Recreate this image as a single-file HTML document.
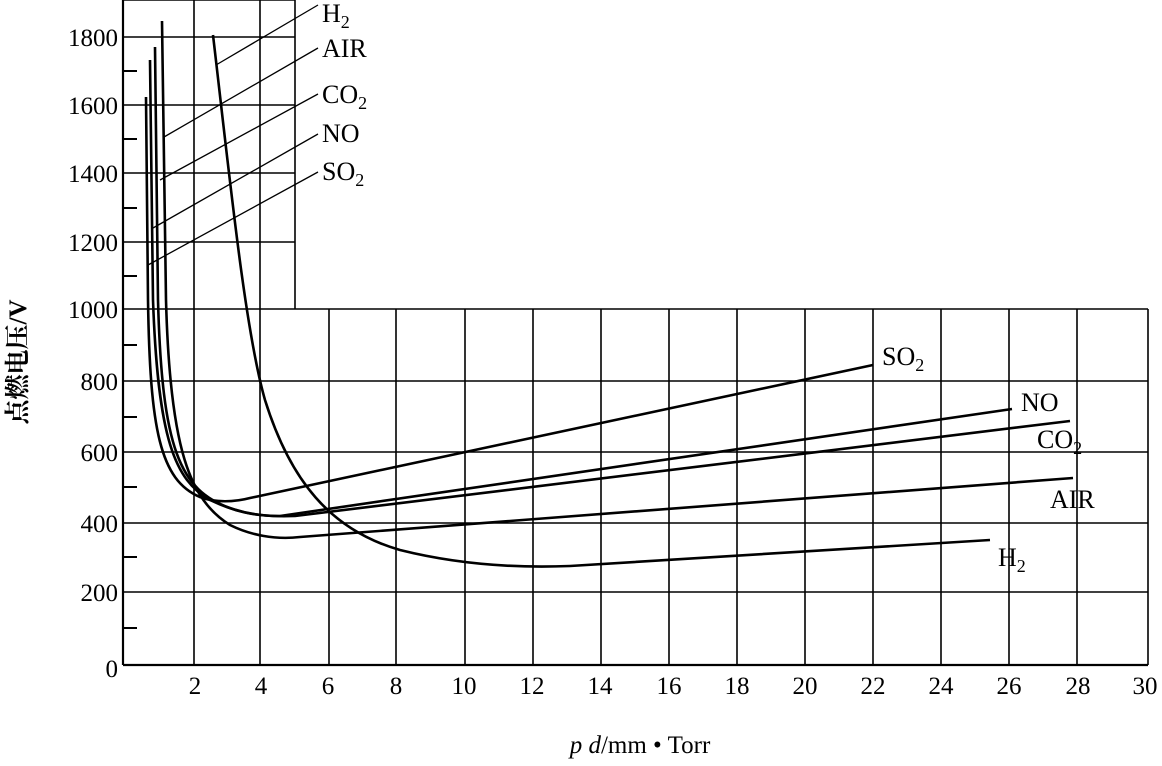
<!DOCTYPE html>
<html><head><meta charset="utf-8"><style>
body{margin:0;background:#fff}
text{font-family:"Liberation Serif","Noto Serif CJK SC",serif;fill:#000}
</style></head><body>
<svg width="1162" height="761" viewBox="0 0 1162 761" xmlns="http://www.w3.org/2000/svg">
<g stroke="#000" stroke-width="1.6" fill="none">
<line x1="123" y1="0" x2="295" y2="0"/>
<line x1="295" y1="0" x2="295" y2="309"/>
<line x1="194" y1="0" x2="194" y2="665"/>
<line x1="260" y1="0" x2="260" y2="665"/>
<line x1="123" y1="37" x2="295" y2="37"/>
<line x1="123" y1="105" x2="295" y2="105"/>
<line x1="123" y1="173" x2="295" y2="173"/>
<line x1="123" y1="242" x2="295" y2="242"/>
<line x1="123" y1="309" x2="1148" y2="309"/>
<line x1="123" y1="381" x2="1148" y2="381"/>
<line x1="123" y1="452" x2="1148" y2="452"/>
<line x1="123" y1="523" x2="1148" y2="523"/>
<line x1="123" y1="592" x2="1148" y2="592"/>
<line x1="1148" y1="309" x2="1148" y2="665"/>
<line x1="329" y1="309" x2="329" y2="665"/>
<line x1="396" y1="309" x2="396" y2="665"/>
<line x1="465" y1="309" x2="465" y2="665"/>
<line x1="533" y1="309" x2="533" y2="665"/>
<line x1="601" y1="309" x2="601" y2="665"/>
<line x1="669" y1="309" x2="669" y2="665"/>
<line x1="737" y1="309" x2="737" y2="665"/>
<line x1="805" y1="309" x2="805" y2="665"/>
<line x1="873" y1="309" x2="873" y2="665"/>
<line x1="941" y1="309" x2="941" y2="665"/>
<line x1="1009" y1="309" x2="1009" y2="665"/>
<line x1="1077" y1="309" x2="1077" y2="665"/>
<line x1="123" y1="0" x2="123" y2="665" stroke-width="2.2"/>
<line x1="123" y1="665" x2="1148" y2="665" stroke-width="2.2"/>
<g stroke-width="2">
<line x1="123" y1="71" x2="137" y2="71"/><line x1="123" y1="139" x2="137" y2="139"/>
<line x1="123" y1="208" x2="137" y2="208"/><line x1="123" y1="276" x2="137" y2="276"/>
<line x1="123" y1="345" x2="137" y2="345"/><line x1="123" y1="417" x2="137" y2="417"/>
<line x1="123" y1="487" x2="137" y2="487"/><line x1="123" y1="557" x2="137" y2="557"/>
<line x1="123" y1="628" x2="137" y2="628"/>
</g>
<g stroke-width="2.6" stroke-linejoin="round">
<path d="M146,97 L148,300 C150,430 160,480 200,497 C215,503 235,502 250,498 L873,365"/>
<path d="M150,60 L153,300 C158,440 175,480 210,500 C235,512 255,516 280,516 L1012,409"/>
<path d="M155,47 L158,300 C162,450 180,490 230,508 C250,515 270,517 295,516 L1070,421"/>
<path d="M162,21 L166,300 C170,450 190,500 230,525 C250,535 275,540 300,537 L1073,478"/>
<path d="M213,35 C230,180 245,330 265,400 C290,480 330,530 400,550 C460,565 520,568 570,566 L990,540"/>
</g>
<g stroke-width="1.3">
<line x1="216" y1="65" x2="318" y2="5"/>
<line x1="164" y1="137" x2="318" y2="48"/>
<line x1="160" y1="180" x2="318" y2="94"/>
<line x1="153" y1="228" x2="318" y2="134"/>
<line x1="148" y1="265" x2="318" y2="172"/>
</g>
</g>
<g font-size="26">
<text x="322" y="22">H<tspan font-size="18" dy="6">2</tspan></text>
<text x="322" y="57">AIR</text>
<text x="322" y="103">CO<tspan font-size="18" dy="6">2</tspan></text>
<text x="322" y="142">NO</text>
<text x="322" y="180">SO<tspan font-size="18" dy="6">2</tspan></text>
<text x="882" y="365">SO<tspan font-size="18" dy="6">2</tspan></text>
<text x="1021" y="411">NO</text>
<text x="1037" y="448">CO<tspan font-size="18" dy="6">2</tspan></text>
<text x="1050" y="508">AIR</text>
<text x="998" y="566">H<tspan font-size="18" dy="6">2</tspan></text>
</g>
<g font-size="25" text-anchor="end">
<text x="118" y="46">1800</text><text x="118" y="114">1600</text>
<text x="118" y="182">1400</text><text x="118" y="251">1200</text>
<text x="118" y="318">1000</text><text x="118" y="390">800</text>
<text x="118" y="461">600</text><text x="118" y="532">400</text>
<text x="118" y="601">200</text><text x="118" y="677">0</text>
</g>
<g font-size="25" text-anchor="middle">
<text x="195" y="694">2</text><text x="261" y="694">4</text><text x="328" y="694">6</text>
<text x="396" y="694">8</text><text x="464" y="694">10</text><text x="532" y="694">12</text>
<text x="600" y="694">14</text><text x="669" y="694">16</text><text x="737" y="694">18</text>
<text x="805" y="694">20</text><text x="873" y="694">22</text><text x="941" y="694">24</text>
<text x="1009" y="694">26</text><text x="1078" y="694">28</text><text x="1145" y="694">30</text>
</g>
<text x="640" y="753" font-size="25" text-anchor="middle"><tspan font-style="italic">p d</tspan>/mm • Torr</text>
<text transform="translate(26,362) rotate(-90)" font-size="25" font-weight="bold" text-anchor="middle">点燃电压/V</text>
</svg>
</body></html>
